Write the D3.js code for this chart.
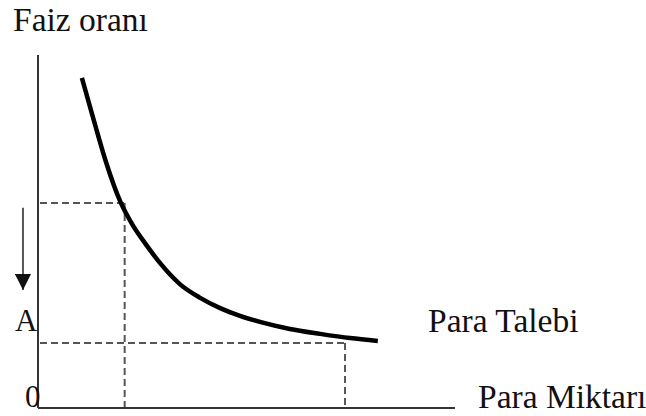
<!DOCTYPE html>
<html>
<head>
<meta charset="utf-8">
<script src="https://cdn.jsdelivr.net/npm/d3@7"></script>
<style>
  body { margin: 0; background: #fff; }
  text { font-family: "Liberation Serif", "Times New Roman", serif; fill: #111; }
</style>
</head>
<body>
<div id="chart"></div>
<script>

// demand curve (arbitrary units, 0-100 on both axes)
var curveX = [10.1, 12.8, 15.9, 19.3, 22.2, 25.3, 28.9, 33.7, 38.6, 43.4, 48.2, 53.0, 60.2, 67.5, 74.7, 81.4];
var curveY = [93.5, 82.2, 69.7, 58.6, 52.1, 46.7, 41.1, 35.1, 31.2, 28.3, 26.1, 24.4, 22.4, 21.0, 19.8, 19.0];

// the two dashed guide points
var guideX = [20.4, 73.5];
var guideY = [58.1, 18.4];

// arrow beside the y axis (from, to)
var arrowY = [56.7, 33.4];

var axisLabels = ["Faiz oranı", "Para Miktarı"];
var curveLabel = "Para Talebi";
var tickLabels = ["A", "0"];

DemandChart = function(_parentElement) {
  this.parentElement = _parentElement;
  this.initVis();
};

DemandChart.prototype.initVis = function() {
  var vis = this;

  vis.width = 646;
  vis.height = 416;

  vis.svg = d3.select(vis.parentElement).append("svg")
    .attr("width", vis.width)
    .attr("height", vis.height);

  vis.defs = vis.svg.append("defs");
  vis.defs.append("marker")
    .attr("id", "head")
    .attr("viewBox", "0 0 10 10")
    .attr("refX", 10).attr("refY", 5)
    .attr("markerUnits", "userSpaceOnUse")
    .attr("markerWidth", 17).attr("markerHeight", 16)
    .attr("orient", "auto")
    .append("path")
    .attr("d", "M0,0 L10,5 L0,10 Z")
    .attr("fill", "#111");

  // axes span
  vis.x = d3.scaleLinear().domain([0, 100]).range([40, 455]);
  vis.y = d3.scaleLinear().domain([0, 100]).range([408, 55]);

  vis.data = curveX.map(function(d, i) {
    return {x: d, y: curveY[i]};
  });

  vis.updateVis();
};

DemandChart.prototype.updateVis = function() {
  var vis = this;

  // dashed guides
  guideX.forEach(function(gx, i) {
    var gy = guideY[i];
    vis.svg.append("line")
      .attr("x1", vis.x(0)).attr("x2", vis.x(gx))
      .attr("y1", vis.y(gy)).attr("y2", vis.y(gy))
      .attr("stroke", "#555")
      .attr("stroke-width", 2)
      .attr("stroke-dasharray", "7,4");
    vis.svg.append("line")
      .attr("x1", vis.x(gx)).attr("x2", vis.x(gx))
      .attr("y1", vis.y(gy)).attr("y2", vis.y(0))
      .attr("stroke", "#555")
      .attr("stroke-width", 2)
      .attr("stroke-dasharray", "7,4");
  });

  // axes, no ticks
  vis.svg.append("line")
    .attr("x1", vis.x(0) - 2).attr("x2", vis.x(0) - 2)
    .attr("y1", vis.y(100)).attr("y2", vis.y(0))
    .attr("stroke", "#333")
    .attr("stroke-width", 2);
  vis.svg.append("line")
    .attr("x1", vis.x(0) - 2).attr("x2", vis.x(100))
    .attr("y1", vis.y(0)).attr("y2", vis.y(0))
    .attr("stroke", "#333")
    .attr("stroke-width", 2);

  // curve
  var line = d3.line()
    .x(function(d) { return vis.x(d.x); })
    .y(function(d) { return vis.y(d.y); })
    .curve(d3.curveMonotoneX);

  vis.svg.append("path")
    .datum(vis.data)
    .attr("d", line)
    .attr("fill", "none")
    .attr("stroke", "#000")
    .attr("stroke-width", 4.5)
    .attr("stroke-linecap", "butt");

  // arrow
  vis.svg.append("line")
    .attr("x1", vis.x(-4.1)).attr("x2", vis.x(-4.1))
    .attr("y1", vis.y(arrowY[0])).attr("y2", vis.y(arrowY[1]))
    .attr("stroke", "#222")
    .attr("stroke-width", 1.5)
    .attr("marker-end", "url(#head)");

  // texts
  vis.svg.append("text")
    .attr("x", 13).attr("y", 31)
    .attr("font-size", 33.5)
    .text(axisLabels[0]);

  vis.svg.append("text")
    .attr("x", 478).attr("y", 408)
    .attr("font-size", 33.5)
    .text(axisLabels[1]);

  vis.svg.append("text")
    .attr("x", 428).attr("y", 332)
    .attr("font-size", 33.5)
    .text(curveLabel);

  vis.svg.append("text")
    .attr("x", 15).attr("y", 331)
    .attr("font-size", 31)
    .text(tickLabels[0]);

  vis.svg.append("text")
    .attr("x", 25).attr("y", 407)
    .attr("font-size", 31)
    .text(tickLabels[1]);
};

var chart = new DemandChart("#chart");

</script>
</body>
</html>
